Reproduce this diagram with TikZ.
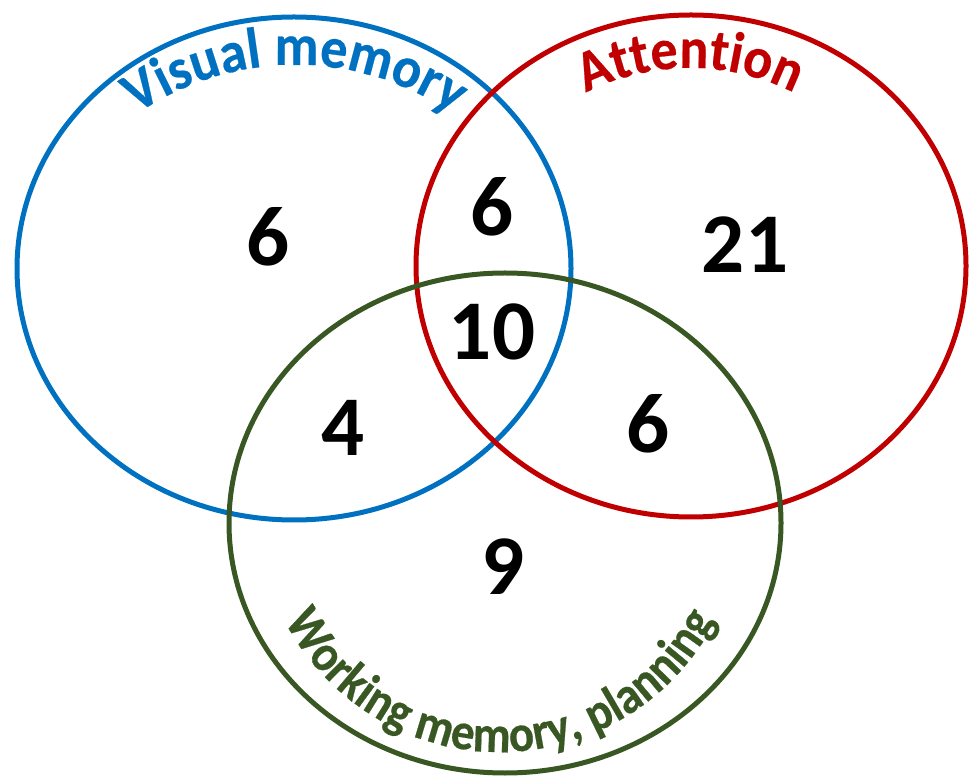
\documentclass[tikz,border=0pt]{standalone}
\usepackage{fontspec}
\setmainfont{Carlito}
\newfontface\arcfont[FakeStretch=0.93,FakeBold=0.4]{Carlito Bold}
\newfontface\arcfontb[FakeStretch=0.9,FakeBold=0.4]{Carlito Bold}
\usetikzlibrary{decorations.text}
\definecolor{vblue}{HTML}{0070C0}
\definecolor{vred}{HTML}{C00000}
\definecolor{vgreen}{HTML}{385723}
\newcommand\numfont{\fontsize{85}{90}\selectfont\bfseries}
\newcommand\lblfont{\fontsize{58}{64}\selectfont\arcfont}
\newcommand\lblfontb{\fontsize{52}{58}\selectfont\arcfontb}
\begin{document}
\begin{tikzpicture}[x=1pt,y=1pt,
  ring/.style={line width=5pt},
  num/.style={font=\numfont, inner sep=0pt},
  arclabel/.style={decorate, decoration={text along path, text align=center, text color=#1}}]
\useasboundingbox (0,0) rectangle (972,777);
\coordinate (cB) at (294,508.5);
\coordinate (cR) at (691,511);
\coordinate (cG) at (505,254);
\draw[ring, vblue] (cB) ellipse [x radius=277, y radius=251.5];
\draw[ring, vred] (cR) ellipse [x radius=275, y radius=251];
\draw[ring, vgreen] (cG) ellipse [x radius=276, y radius=250];
% curved labels
\coordinate (tB) at (295,432);
\coordinate (tR) at (690,479);
\coordinate (tG) at (500,267);
\path[arclabel=vblue, decoration={text={|\lblfont|Visual memory}}]
  (tB) ++(160:280) arc[start angle=160, end angle=20, radius=280];
\path[arclabel=vred, decoration={text={|\lblfont|Attention}}]
  (tR) ++(160:230) arc[start angle=160, end angle=20, radius=230];
\path[arclabel=vgreen, decoration={text={|\lblfontb|Working memory, planning}}]
  (tG) ++(190:242) arc[start angle=190, end angle=350, radius=242];
% numbers
\node[num] (vonly) at (268,540) {6};
\node[num] (va) at (492,570) {6};
\node[num] (aonly) at (745,532) {21};
\node[num] (all) at (492,445) {10};
\node[num] (vw) at (343,349) {4};
\node[num] (aw) at (648,353) {6};
\node[num] (wonly) at (503,210) {9};
\end{tikzpicture}
\end{document}
